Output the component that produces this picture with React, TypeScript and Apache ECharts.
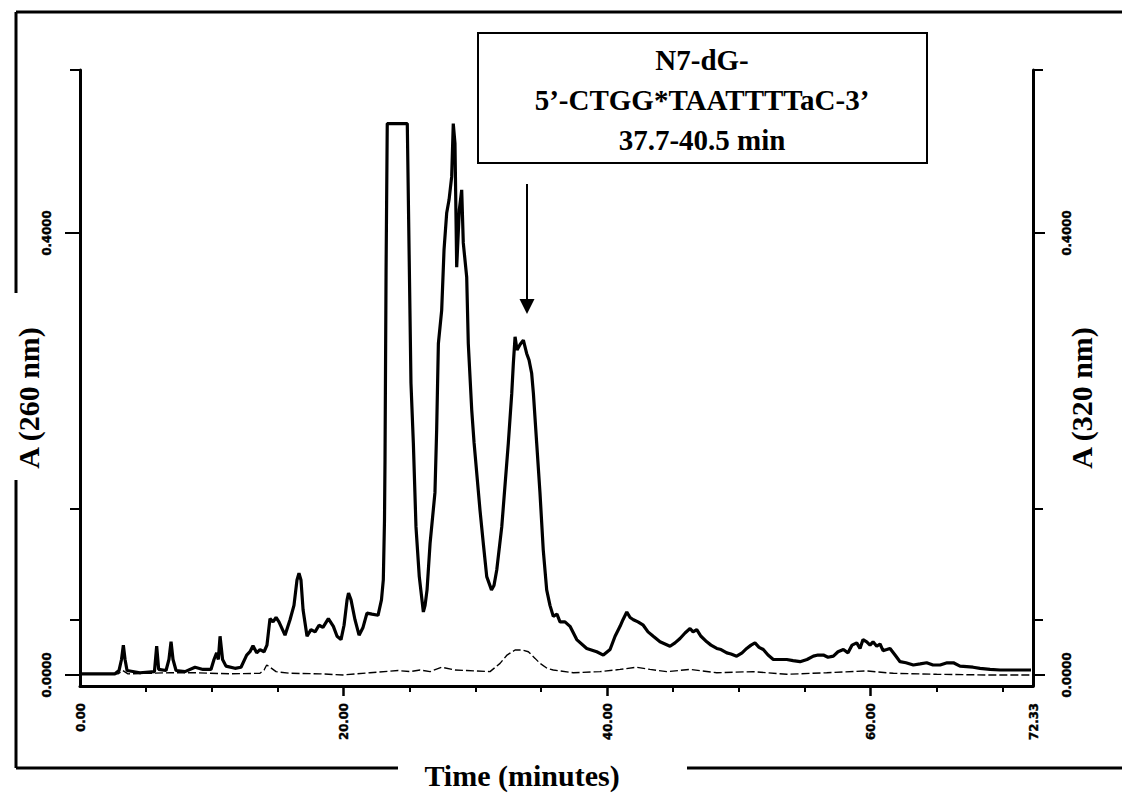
import React, { useEffect, useRef } from "react";
import * as echarts from "echarts";

// Solid trace: absorbance at 260 nm (time in minutes, absorbance)
const times260 = [
  0, 2.66, 2.96, 3.15, 3.29, 3.42, 3.57, 4.55, 5.65, 5.82, 5.97, 6.53, 6.75, 6.91, 7.06, 7.29,
  7.97, 8.73, 9.34, 9.94, 10.17, 10.37, 10.5, 10.63, 10.82, 11.08, 11.76, 12.22, 12.65, 12.9,
  13.13, 13.41, 13.66, 13.97, 14.19, 14.42, 14.65, 14.88, 15.1, 15.56, 15.94, 16.24, 16.47,
  16.62, 16.77, 16.93, 17.23, 17.53, 17.84, 18.14, 18.44, 18.85, 19.23, 19.51, 19.81, 20.04,
  20.27, 20.38, 20.57, 20.87, 21.18, 21.48, 21.78, 22.16, 22.62, 22.88, 23.02, 23.11, 23.15,
  23.23, 23.32, 24.84, 24.99, 25.12, 25.3, 25.5, 25.75, 26.06, 26.19, 26.34, 26.57, 26.94,
  27.07, 27.2, 27.45, 27.63, 27.83, 28.01, 28.21, 28.33, 28.46, 28.59, 28.79, 28.97, 29.09,
  29.35, 29.47, 29.73, 29.91, 30.36, 30.61, 30.87, 31.23, 31.42, 31.63, 32.01, 32.51, 32.77,
  32.89, 33.02, 33.17, 33.4, 33.65, 33.9, 34.08, 34.28, 34.41, 34.66, 34.91, 35.16, 35.42,
  35.67, 35.92, 36.2, 36.43, 36.81, 37.19, 37.7, 38.46, 39.22, 39.72, 40.23, 40.61, 40.99,
  41.21, 41.5, 41.75, 42.0, 42.35, 42.75, 43.11, 43.51, 44.02, 44.4, 44.78, 45.16, 45.54,
  45.92, 46.3, 46.53, 46.81, 47.13, 47.57, 47.89, 48.33, 48.65, 49.09, 49.41, 49.84, 50.25,
  50.6, 50.93, 51.23, 51.54, 51.86, 52.22, 52.62, 53.13, 53.64, 54.12, 54.65, 55.18, 55.66,
  56.01, 56.42, 56.77, 57.18, 57.53, 57.94, 58.29, 58.6, 58.95, 59.2, 59.43, 59.71, 59.96,
  60.19, 60.47, 60.72, 60.95, 61.23, 61.48, 61.86, 62.24, 62.69, 63.25, 63.76, 64.26, 64.74,
  65.28, 65.81, 66.29, 66.79, 67.3, 67.78, 68.31, 69.07, 69.83, 70.97, 72.18,
];
const abs260 = [
  0.001, 0.001, 0.004, 0.014, 0.027, 0.014, 0.004, 0.002, 0.003, 0.026, 0.005, 0.004, 0.014,
  0.03, 0.014, 0.004, 0.003, 0.007, 0.005, 0.005, 0.014, 0.02, 0.014, 0.035, 0.014, 0.008,
  0.006, 0.007, 0.018, 0.021, 0.0265, 0.02, 0.023, 0.021, 0.027, 0.051, 0.048, 0.052, 0.048,
  0.036, 0.05, 0.063, 0.086, 0.092, 0.086, 0.059, 0.035, 0.041, 0.039, 0.045, 0.043, 0.051,
  0.044, 0.035, 0.032, 0.045, 0.068, 0.074, 0.068, 0.05, 0.036, 0.043, 0.056, 0.055, 0.054,
  0.068, 0.086, 0.14, 0.195, 0.367, 0.499, 0.499, 0.373, 0.264, 0.21, 0.134, 0.089, 0.057,
  0.063, 0.077, 0.119, 0.165, 0.222, 0.3, 0.33, 0.385, 0.418, 0.43, 0.451, 0.499, 0.481,
  0.369, 0.421, 0.439, 0.391, 0.36, 0.3, 0.24, 0.21, 0.149, 0.119, 0.089, 0.077, 0.081, 0.095,
  0.134, 0.21, 0.255, 0.282, 0.306, 0.294, 0.299, 0.303, 0.291, 0.285, 0.273, 0.255, 0.21,
  0.165, 0.113, 0.077, 0.063, 0.053, 0.055, 0.048, 0.048, 0.044, 0.032, 0.024, 0.021, 0.018,
  0.023, 0.035, 0.044, 0.05, 0.057, 0.052, 0.05, 0.048, 0.045, 0.039, 0.035, 0.03, 0.028,
  0.026, 0.029, 0.033, 0.038, 0.042, 0.039, 0.041, 0.035, 0.03, 0.027, 0.024, 0.023, 0.02,
  0.019, 0.017, 0.02, 0.024, 0.027, 0.029, 0.025, 0.023, 0.018, 0.014, 0.014, 0.014, 0.013,
  0.012, 0.014, 0.017, 0.018, 0.018, 0.016, 0.017, 0.021, 0.023, 0.02, 0.027, 0.029, 0.024,
  0.032, 0.03, 0.027, 0.03, 0.026, 0.028, 0.022, 0.023, 0.024, 0.018, 0.012, 0.011, 0.009,
  0.01, 0.011, 0.009, 0.009, 0.011, 0.011, 0.008, 0.0075, 0.007, 0.006, 0.005, 0.0045, 0.0045,
  0.0045,
];

// Dashed trace: absorbance at 320 nm
const times320 = [
  0, 2.88, 3.26, 3.64, 6.83, 8.73, 11.39, 13.66, 13.97, 14.17, 14.42, 14.88, 15.94, 18.22,
  19.96, 22.01, 24.14, 25.05, 25.81, 26.57, 27.45, 28.46, 29.35, 31.12, 31.88, 32.41, 33.02,
  33.55, 34.03, 34.54, 34.91, 35.45, 35.92, 37.44, 39.47, 40.99, 42.25, 43.26, 44.53, 46.3,
  48.33, 51.08, 53.64, 56.67, 59.71, 61.73, 65.02, 68.82, 72.18,
];
const abs320 = [
  0.0005, 0.001, 0.004, 0.001, 0.002, 0.002, 0.001, 0.0015, 0.0045, 0.009, 0.007, 0.003,
  0.0015, 0.001, 0, 0.002, 0.004, 0.003, 0.0045, 0.003, 0.007, 0.0045, 0.004, 0.003, 0.0105,
  0.018, 0.0226, 0.0226, 0.021, 0.015, 0.0105, 0.006, 0.0045, 0.002, 0.003, 0.005, 0.007,
  0.005, 0.003, 0.005, 0.002, 0.003, 0.0006, 0.002, 0.0036, 0.0015, 0.0006, 0, 0,
];

// Axes
const xMin = 0;
const xMax = 72.33;
const xMajorTicks = [20, 40, 60];
const xMinorTicks = [5, 10, 15, 25, 30, 35, 45, 50, 55, 65, 70];
const xLabelValues = [0, 20, 40, 60, 72.33];
const yMin = -0.01;
const yMax = 0.5475;
const yMajorTicks = [0, 0.4];
const yMinorTicks = [0.05, 0.15, 0.5475];
const yLabelValues = [0, 0.4];

// Texts
const xTitle = "Time (minutes)";
const yLeftTitle = "A (260 nm)";
const yRightTitle = "A (320 nm)";
const noteLines = ["N7-dG-", "5\u2019-CTGG*TAATTTTaC-3\u2019", "37.7-40.5 min"];

const tickFont = "'Liberation Sans Narrow', 'DejaVu Sans Condensed', 'Arial Narrow', sans-serif";
const serif = "'Liberation Serif', 'Times New Roman', serif";

export default function App() {
  const ref = useRef<HTMLDivElement>(null);

  useEffect(() => {
    if (!ref.current) return;
    const chart = echarts.init(ref.current, null, { renderer: "svg" });
    const s260 = times260.map((t, i) => [t, abs260[i]]);
    const s320 = times320.map((t, i) => [t, abs320[i]]);

    const yLabel = {
      customValues: yLabelValues,
      rotate: 90,
      margin: 27,
      color: "#000",
      fontFamily: tickFont,
      fontWeight: "bold" as const,
      fontSize: 13,
      textBorderColor: "#000",
      textBorderWidth: 0.4,
      formatter: (v: number) => v.toFixed(4),
    };

    const makeY = (position: "left" | "right", ticks: number[], len: number, labels: boolean) => ({
      type: "value" as const,
      position,
      min: yMin,
      max: yMax,
      splitLine: { show: false },
      axisLine: { show: labels, lineStyle: { color: "#000", width: 3 } },
      axisTick: { show: true, customValues: ticks, length: len, lineStyle: { color: "#000", width: 2 } },
      axisLabel: labels ? yLabel : { show: false },
    });

    chart.setOption({
      animation: false,
      grid: { left: 80, right: 89, top: 70, bottom: 107, containLabel: false },
      xAxis: [
        {
          type: "value",
          position: "bottom",
          min: xMin,
          max: xMax,
          splitLine: { show: false },
          axisLine: { onZero: false, lineStyle: { color: "#000", width: 3 } },
          axisTick: { customValues: xMajorTicks, length: 10, lineStyle: { color: "#000", width: 2.5 } },
          axisLabel: {
            customValues: xLabelValues,
            rotate: 90,
            margin: 17,
            color: "#000",
            fontFamily: tickFont,
            fontWeight: "bold",
            fontSize: 13,
            textBorderColor: "#000",
            textBorderWidth: 0.4,
            formatter: (v: number) => v.toFixed(2),
          },
        },
        {
          type: "value",
          position: "bottom",
          min: xMin,
          max: xMax,
          splitLine: { show: false },
          axisLine: { show: false, onZero: false },
          axisTick: { customValues: xMinorTicks, length: 6, lineStyle: { color: "#000", width: 2 } },
          axisLabel: { show: false },
        },
      ],
      yAxis: [
        makeY("left", yMajorTicks, 15, true),
        makeY("left", yMinorTicks, 10, false),
        makeY("right", yMajorTicks, 12, true),
        makeY("right", yMinorTicks, 10, false),
      ],
      series: [
        {
          type: "line",
          data: s260,
          xAxisIndex: 0,
          yAxisIndex: 0,
          showSymbol: false,
          lineStyle: { color: "#000", width: 3.2 },
          z: 3,
        },
        {
          type: "line",
          data: s320,
          xAxisIndex: 0,
          yAxisIndex: 2,
          showSymbol: false,
          lineStyle: { color: "#000", width: 1.4, type: [8, 3] },
          z: 2,
        },
      ],
      graphic: [
        // outer frame
        { type: "line", shape: { x1: 16, y1: 12, x2: 1122, y2: 12 }, style: { stroke: "#000", lineWidth: 3 } },
        { type: "line", shape: { x1: 16, y1: 12, x2: 16, y2: 293 }, style: { stroke: "#000", lineWidth: 3 } },
        { type: "line", shape: { x1: 16, y1: 480, x2: 16, y2: 768 }, style: { stroke: "#000", lineWidth: 3 } },
        { type: "line", shape: { x1: 16, y1: 768, x2: 398, y2: 768 }, style: { stroke: "#000", lineWidth: 3 } },
        { type: "line", shape: { x1: 687, y1: 768, x2: 1122, y2: 768 }, style: { stroke: "#000", lineWidth: 3 } },
        // axis titles
        {
          type: "text",
          x: 522,
          y: 775,
          style: { text: xTitle, font: `bold 30px ${serif}`, fill: "#000", align: "center", verticalAlign: "middle" },
        },
        {
          type: "text",
          x: 28,
          y: 398,
          rotation: Math.PI / 2,
          style: { text: yLeftTitle, font: `bold 30px ${serif}`, fill: "#000", align: "center", verticalAlign: "middle" },
        },
        {
          type: "text",
          x: 1081,
          y: 398,
          rotation: Math.PI / 2,
          style: { text: yRightTitle, font: `bold 30px ${serif}`, fill: "#000", align: "center", verticalAlign: "middle" },
        },
        // annotation box
        {
          type: "rect",
          shape: { x: 478, y: 33, width: 449, height: 130 },
          style: { fill: "#fff", stroke: "#000", lineWidth: 2 },
          z: 10,
        },
        ...noteLines.map((t, i) => ({
          type: "text",
          x: 702,
          y: 60 + i * 40,
          z: 11,
          style: { text: t, font: `bold 29px ${serif}`, fill: "#000", align: "center", verticalAlign: "middle" },
        })),
        // arrow
        { type: "line", shape: { x1: 527, y1: 184, x2: 527, y2: 302 }, style: { stroke: "#000", lineWidth: 2 } },
        {
          type: "polygon",
          shape: { points: [[519.5, 299], [534.5, 299], [527, 314]] },
          style: { fill: "#000" },
        },
      ],
    });
    return () => chart.dispose();
  }, []);

  return (
    <div
      ref={ref}
      style={{ position: "absolute", left: 0, top: 0, width: 1122, height: 793, background: "#fff" }}
    />
  );
}
